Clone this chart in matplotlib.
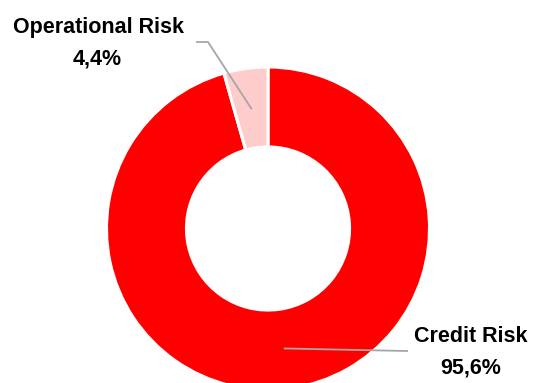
import numpy as np
import matplotlib
matplotlib.use("Agg")
import matplotlib.pyplot as plt

categories = ["Credit Risk", "Operational Risk"]
values = [95.6, 4.4]
value_labels = ["95,6%", "4,4%"]
colors = ["#FF0000", "#FFCCCC"]

fam = ["Liberation Sans", "DejaVu Sans"]
fs = 15.5

W, H = 533, 383
fig = plt.figure(figsize=(W / 100, H / 100), dpi=100)
ax = fig.add_axes([0, 0, 1, 1])
cx, cy, R = 268, H - 228.5, 161.5
wedges, _ = ax.pie(values, colors=colors, startangle=90, counterclock=False,
                   center=(cx, cy), radius=R,
                   wedgeprops=dict(width=R * 0.495, edgecolor="white", linewidth=2.2))
ax.set_xlim(0, W)
ax.set_ylim(0, H)
ax.set_aspect("equal")
ax.axis("off")

anchors = []
for w in wedges:
    ang = np.deg2rad((w.theta1 + w.theta2) / 2)
    rr = R * 0.75
    anchors.append((cx + rr * np.cos(ang), cy + rr * np.sin(ang)))

lc = "#A6A6A6"
ax.plot([anchors[0][0], 407], [anchors[0][1], H - 351], color=lc, lw=1.3)
ax.text(471, H - 337, categories[0], ha="center", va="center",
        fontsize=fs, fontweight="bold", family=fam)
ax.text(471, H - 368, value_labels[0], ha="center", va="center",
        fontsize=fs, fontweight="bold", family=fam)
ax.plot([197, 208, anchors[1][0]], [H - 42, H - 42, anchors[1][1]], color=lc, lw=1.3)
ax.text(98.5, H - 27, categories[1], ha="center", va="center",
        fontsize=fs, fontweight="bold", family=fam)
ax.text(97.5, H - 59, value_labels[1], ha="center", va="center",
        fontsize=fs, fontweight="bold", family=fam)

fig.savefig("out.png", dpi=100)
